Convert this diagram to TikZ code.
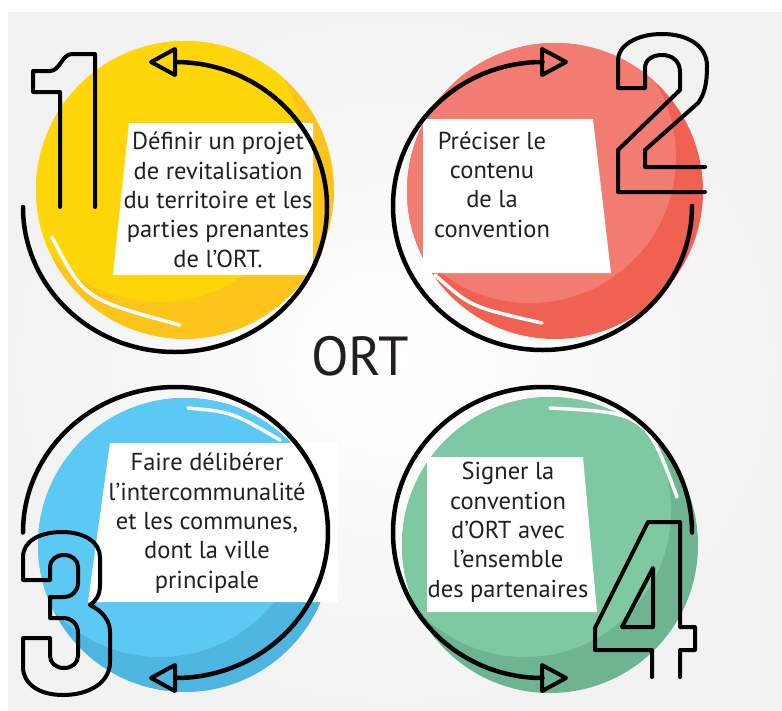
\documentclass[tikz,border=0pt]{standalone}
\usepackage{fontspec}
\setmainfont{PT Sans}
\definecolor{ink}{HTML}{231F20}
\definecolor{ylwdark}{HTML}{FDC41C}
\definecolor{ylwlight}{HTML}{FFD60A}
\definecolor{reddark}{HTML}{F06152}
\definecolor{redlight}{HTML}{F37C72}
\definecolor{bludark}{HTML}{4DB5DF}
\definecolor{blulight}{HTML}{5BC9F3}
\definecolor{grndark}{HTML}{6DB591}
\definecolor{grnlight}{HTML}{7EC8A2}
\begin{document}
\begin{tikzpicture}[x=1pt,y=-1pt,
  numeral/.style={draw=black, line width=4pt, line join=round, line cap=round},
  loopline/.style={draw=black, line width=4.5pt, line cap=round},
  tiphead/.style={draw=black, line width=4pt, line join=round},
  gleam/.style={draw=white, line width=3.5pt, line cap=round},
  card/.style={fill=white},
  label/.style={font=\fontsize{24.5}{29.3}\selectfont, text=ink, align=center, anchor=base, inner sep=0pt}]
\useasboundingbox (0,0) rectangle (782,710);

% backdrop
\fill[white] (0,0) rectangle (782,710);
\shade[inner color=white, outer color=black!5] (8,12) rectangle (782,710);

% two-tone discs: darker base, lighter disc shifted up-left
\fill[ylwdark] (185,190) circle[radius=149];
\begin{scope}
  \clip (185,190) circle[radius=149];
  \fill[ylwlight] (159,156) circle[radius=146];
\end{scope}
\fill[reddark] (555,191) circle[radius=148];
\begin{scope}
  \clip (555,191) circle[radius=148];
  \fill[redlight] (530,157) circle[radius=146];
\end{scope}
\fill[bludark] (185,545) circle[radius=147];
\begin{scope}
  \clip (185,545) circle[radius=147];
  \fill[blulight] (160,511) circle[radius=146];
\end{scope}
\fill[grndark] (550,545) circle[radius=148];
\begin{scope}
  \clip (550,545) circle[radius=148];
  \fill[grnlight] (525,511) circle[radius=146];
\end{scope}

% glossy highlights
\draw[gleam] (52,237) .. controls (84,299) .. (180,325);
\draw[gleam] (435,275) .. controls (471,307) .. (542,323);
\draw[gleam] (188,408) .. controls (232,412) .. (280,440);
\draw[gleam] (550,408) .. controls (646,413) .. (677,497);

% white cards
\fill[card] (129,123) -- (313,123) -- (313,275) -- (113,275) -- cycle;
\fill[card] (423,119) -- (593,119) -- (611,273) -- (423,273) -- cycle;
\fill[card] (110,443) -- (338,443) -- (338,602) -- (88,602) -- cycle;
\fill[card] (427,457) -- (583,457) -- (597,612) -- (427,612) -- cycle;

% card texts (anchored on the baseline of the last line)
\node[label] (t1) at (218,267) {Définir un projet\\de revitalisation\\du territoire et les\\parties prenantes\\de l’ORT.};
\node[label] (t2) at (492,237) {Préciser le\\contenu\\de la\\convention};
\node[label] (t3) at (207,588) {Faire délibérer\\l’intercommunalité\\et les communes,\\dont la ville\\principale};
\node[label] (t4) at (508,597) {Signer la\\convention\\d’ORT avec\\l’ensemble\\des partenaires};

% centre title
\node[font=\fontsize{55}{55}\selectfont, text=ink, inner sep=0pt] (ort) at (360,356) {ORT};

% cycle arcs with open arrowheads
\coordinate (s1) at (23,207);
\coordinate (s2) at (692,206);
\coordinate (s3) at (23,532.5);
\coordinate (s4) at (692,532.5);
\draw[loopline] (s1) arc[start angle=180, end angle=-90, x radius=152, y radius=145];
\draw[tiphead] (175,49) -- (151,62) -- (175,75) -- cycle;
\draw[loopline] (s2) arc[start angle=0, end angle=270, x radius=149.5, y radius=144];
\draw[tiphead] (542,49) -- (566,62) -- (542,75) -- cycle;
\draw[loopline] (s3) arc[start angle=180, end angle=450, x radius=152.5, y radius=145.5];
\draw[tiphead] (175,665) -- (151,678) -- (175,691) -- cycle;
\draw[loopline] (s4) arc[start angle=0, end angle=-270, x radius=149.5, y radius=145.5];
\draw[tiphead] (542,665) -- (566,678) -- (542,691) -- cycle;

% outlined step numbers
\draw[numeral] (60,207) -- (60,92) -- (33,92) -- (33,71) -- (50,71)
  .. controls (60,71) and (62,54) .. (72,54) -- (95,54) -- (95,207);
\draw[numeral] (705,167) -- (645,167) -- (645,150) -- (698,103)
  .. controls (704,95) and (707,85) .. (707,66)
  .. controls (707,46) and (688,34) .. (662,34)
  .. controls (636,34) and (618,46) .. (618,60) -- (618,88) -- (645,88) -- (645,68)
  .. controls (645,60) and (652,55) .. (662,55)
  .. controls (672,55) and (680,61) .. (680,72) -- (680,90) -- (618,150) -- (618,192) -- (705,192);
\draw[numeral] (23,580) -- (23,557)
  .. controls (23,541) and (40,532) .. (62,532)
  .. controls (84,532) and (100,542) .. (100,557) -- (100,585)
  .. controls (100,595) and (96,601) .. (90,605)
  .. controls (102,611) and (110,620) .. (110,632) -- (110,662)
  .. controls (110,682) and (90,695) .. (63,695)
  .. controls (38,695) and (23,683) .. (23,667) -- (23,638) -- (50,638) -- (50,656)
  .. controls (50,663) and (56,668) .. (64,668)
  .. controls (72,668) and (78,663) .. (78,656) -- (78,633)
  .. controls (78,624) and (72,618) .. (63,618) -- (50,618) -- (50,597) -- (63,597)
  .. controls (72,597) and (78,591) .. (78,583) -- (78,567)
  .. controls (78,560) and (72,555) .. (64,555)
  .. controls (56,555) and (50,560) .. (50,567) -- (50,580) -- cycle;
\draw[numeral] (652,677) -- (652,650) -- (595,650) -- (595,628) -- (648,522) -- (680,522)
  -- (680,627) -- (695,627) -- (695,650) -- (680,650) -- (680,677);
\draw[numeral] (622,627) -- (653,568) -- (653,627) -- cycle;
\end{tikzpicture}
\end{document}
